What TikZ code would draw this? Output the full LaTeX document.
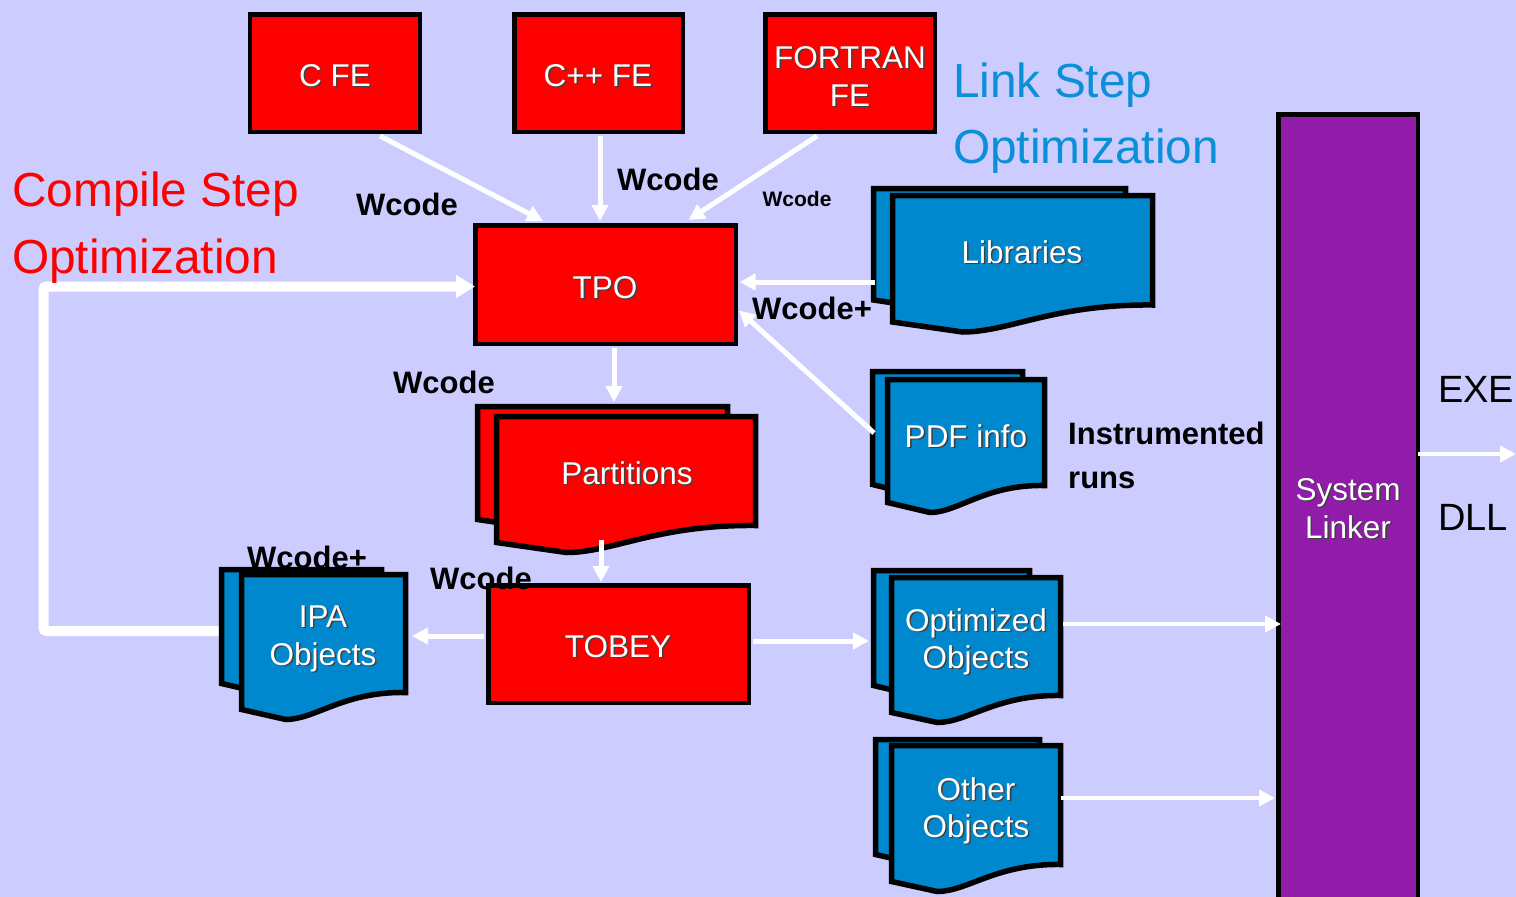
\documentclass[tikz,border=0pt]{standalone}
\usepackage{fontspec}
\setmainfont{Liberation Sans}
\usetikzlibrary{arrows.meta,calc}
\definecolor{bg}{HTML}{CCCCFF}
\definecolor{rd}{HTML}{FF0000}
\definecolor{bl}{HTML}{0088CE}
\definecolor{pu}{HTML}{911CAA}
\definecolor{lk}{HTML}{0A8FD8}
\tikzset{
  box/.style={draw=black, line width=4.5pt, inner sep=0, fill=rd},
  docst/.style={draw=black, line width=5.5pt},
  wt/.style={text=white, font=\fontsize{31.5}{38}\selectfont, anchor=base, inner sep=0},
  wts/.style={wt, text=black!75},
  lab/.style={font=\fontsize{31}{37}\selectfont\bfseries, anchor=base, inner sep=0},
  smalllab/.style={font=\fontsize{21}{25}\selectfont\bfseries, anchor=base, inner sep=0},
  big/.style={font=\fontsize{47.8}{57}\selectfont, anchor=base west, inner sep=0},
  arr/.style={draw=white, line width=5pt, -{Triangle[length=16pt,width=16pt]}},
  loopline/.style={draw=white, line width=10pt, rounded corners=3pt, -{Triangle[length=19pt,width=22pt]}},
}
% document sheet: x0, x1, top, right-bottom, fill
\newcommand\docsheet[5]{%
  \filldraw[docst, fill=#5] (#1,#3) -- (#2,#3) -- (#2,#4)
    .. controls ({#1+0.62*(#2-#1)},{#4-1}) and ({#1+0.45*(#2-#1)},{#4+27}) .. ({#1+0.27*(#2-#1)},{#4+27})
    -- (#1,{#4+17}) -- cycle;}
\newcommand\sht[3]{\node[wts] at ($(#2)+(1.6,1.6)$) {#3}; \node[wt] (#1) at (#2) {#3};}
\begin{document}
\begin{tikzpicture}[x=1pt,y=-1pt]
\useasboundingbox (0,0) rectangle (1516,897);
\clip (0,0) rectangle (1516,897);
\fill[bg] (0,0) rectangle (1516,897);

% red boxes
\node[box, minimum width=170pt, minimum height=117.5pt] (cfe) at (335,73) {};
\node[box, minimum width=168.5pt, minimum height=117.5pt] (cppfe) at (598.5,73) {};
\node[box, minimum width=169.5pt, minimum height=117.5pt] (ffe) at (850,73) {};
\node[box, minimum width=260.5pt, minimum height=118.5pt] (tpo) at (605.5,284.5) {};
\node[box, minimum width=260.5pt, minimum height=117.5pt] (tobey) at (618.5,644) {};
\node[box, fill=pu, minimum width=139.5pt, minimum height=790pt] (linker) at (1348,509.5) {};

% feedback loop
\coordinate (ipaW) at (228,631);
\coordinate (loopX) at (43.5,0);
\draw[loopline] (ipaW) -- (ipaW -| loopX) |- ($(tpo.west)+(2,2)$);

% documents
\docsheet{873.5}{1125.5}{188.5}{283}{bl}
\docsheet{892.5}{1152.5}{195.5}{305}{bl}
\docsheet{477.5}{727.5}{406.5}{502.5}{rd}
\docsheet{496.5}{755.5}{416.5}{525.5}{rd}
\docsheet{872.5}{1022.5}{371.5}{467.5}{bl}
\docsheet{887.5}{1044.5}{379.5}{485.5}{bl}
\docsheet{221.5}{381.5}{569.5}{666.5}{bl}
\docsheet{241.5}{405.5}{574.5}{692.5}{bl}
\docsheet{873.5}{1029.5}{570.5}{668.5}{bl}
\docsheet{891.5}{1060.5}{577.5}{695.5}{bl}
\docsheet{875.5}{1039.5}{739.5}{837.5}{bl}
\docsheet{891.5}{1060.5}{745.5}{864.5}{bl}

% connection points on documents
\coordinate (libW) at (875,282);
\coordinate (pdfW) at (874,433);
\coordinate (partN) at (614,402);
\coordinate (partS) at (601,540);
\coordinate (ipaE) at (412,636);
\coordinate (optW) at (869,641);
\coordinate (optE) at (1063,624);
\coordinate (othE) at (1061,798);
\coordinate (outC) at (1516,454);

% arrows
\draw[arr] ($(cfe.south)+(45,2)$) -- ($(tpo.north)+(-62.5,-2)$);
\draw[arr] ($(cppfe.south)+(1.5,2)$) -- ($(tpo.north)+(-5.5,-2)$);
\draw[arr] ($(ffe.south)+(-33,2)$) -- ($(tpo.north)+(83,-3)$);
\draw[arr] (libW) -- ($(tpo.east |- libW)+(1.5,0)$);
\draw[arr] (pdfW) -- ($(tpo.east)+(1,26)$);
\draw[arr] ($(tpo.south)+(8.5,2)$) -- (partN);
\draw[arr] (partS) -- ($(tobey.north)+(-17.5,-1)$);
\draw[arr] ($(tobey.west)+(-2,-8)$) -- (ipaE);
\draw[arr] ($(tobey.east)+(2,-3)$) -- (optW);
\draw[arr, line width=4.5pt] (optE) -- ($(linker.west |- optE)+(5,0)$);
\draw[arr, line width=4.5pt] (othE) -- ($(linker.west |- othE)+(-1,0)$);
\draw[arr, line width=4.5pt] ($(linker.east |- outC)+(-2,0)$) -- (outC);

% box texts
\sht{cfet}{335,86}{C FE}
\sht{cppfet}{598,86}{C++ FE}
\sht{ffet}{850,68}{FORTRAN}
\sht{ffet2}{850,106}{FE}
\sht{tpot}{605,298}{TPO}
\sht{partt}{627,484}{Partitions}
\sht{tobeyt}{618,657}{TOBEY}
\sht{ipat}{323,627}{IPA}
\sht{ipat2}{323,665}{Objects}
\sht{libt}{1022,263}{Libraries}
\sht{pdft}{966,447}{PDF info}
\sht{optt}{976,631}{Optimized}
\sht{optt2}{976,668}{Objects}
\sht{otht}{976,800}{Other}
\sht{otht2}{976,837}{Objects}
\sht{linkt}{1348,500}{System}
\sht{linkt2}{1348,538}{Linker}

% labels
\node[lab] (w1) at (407,215) {Wcode};
\node[lab] (w2) at (668,190) {Wcode};
\node[smalllab] (w3) at (797,206) {Wcode};
\node[lab] (w4) at (812,319) {Wcode+};
\node[lab] (w5) at (444,393) {Wcode};
\node[lab] (w6) at (307,568) {Wcode+};
\node[lab] (w7) at (481,589) {Wcode};
\node[lab, anchor=base west] (ins) at (1068,444) {Instrumented};
\node[lab, anchor=base west] (runs) at (1068,488) {runs};
\node[font=\fontsize{38}{45}\selectfont, anchor=base west, inner sep=0] (exe) at (1438,402) {EXE};
\node[font=\fontsize{38}{45}\selectfont, anchor=base west, inner sep=0] (dll) at (1438,530) {DLL};
\node[big, text=rd] (cs1) at (12,206) {Compile Step};
\node[big, text=rd] (cs2) at (12,273) {Optimization};
\node[big, text=lk] (ls1) at (953,97) {Link Step};
\node[big, text=lk] (ls2) at (953,163) {Optimization};
\end{tikzpicture}
\end{document}
